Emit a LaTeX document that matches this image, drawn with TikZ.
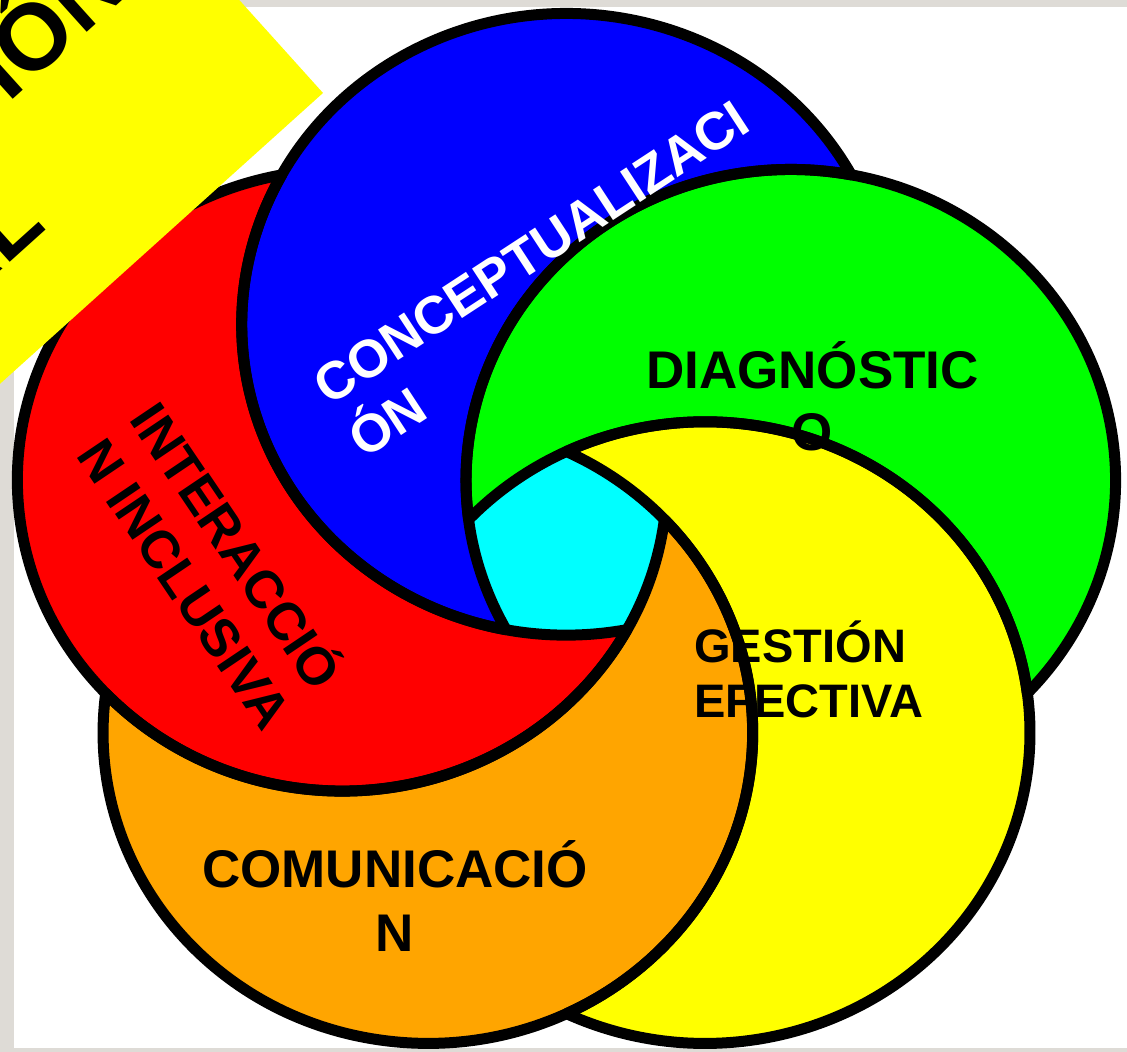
\documentclass[tikz,border=0pt]{standalone}
\usepackage{fontspec}
\setmainfont{Liberation Sans}
\usetikzlibrary{calc}

\definecolor{framegray}{RGB}{222,219,214}
\definecolor{petalblue}{RGB}{0,0,255}
\definecolor{petalred}{RGB}{255,0,0}
\definecolor{petalgreen}{RGB}{0,255,0}
\definecolor{petalyellow}{RGB}{255,255,0}
\definecolor{petalorange}{RGB}{255,165,0}
\definecolor{petalcyan}{RGB}{0,255,255}

% crescent of the circle at angle #1, cut by the next one (at #1-72)
\newcommand\crescent[1]{(#1:\RR) ++({#1-36-\gam}:\rr)
	arc[start angle={#1-36-\gam},end angle={#1+144+\gam},radius=\rr]
	arc[start angle={#1+144-\gam},end angle={#1-36+\gam},radius=\rr] -- cycle}

\begin{document}
\begin{tikzpicture}[x=5pt,y=5pt,
	petal/.style={line width=5.5pt,draw=black,line join=round},
	lbl/.style={inner sep=0pt,font=\bfseries\fontsize{26.5}{32}\selectfont},
	slbl/.style={inner sep=0pt,font=\bfseries\fontsize{23.5}{28}\selectfont},
	ttl/.style={inner sep=0pt,font=\bfseries\fontsize{47}{56}\selectfont,rotate=42,anchor=base east}
	]

	\useasboundingbox (0,0) rectangle (112.7,105.2);
	\clip (0,0) rectangle (112.7,105.2);

	% frame
	\fill[framegray] (0,0) rectangle (112.7,105.2);
	\fill[white] (1.4,0.4) rectangle (112.7,104.5);

	\pgfmathsetmacro{\rr}{31.08}
	\pgfmathsetmacro{\RR}{22.57}
	\pgfmathsetmacro{\gam}{atan(\RR*sin(36)/sqrt(\rr*\rr-(\RR*sin(36))^2))}

	\begin{scope}[shift={(56.65,50.2)},xscale=1.045]
		\fill[petalcyan] (0,0) circle (11);
		\foreach \t/\c in {90/petalblue,18/petalgreen,-54/petalyellow,-126/petalorange,162/petalred}{
			\fill[\c] \crescent{\t};
		}
		\foreach \t in {90,18,-54,-126,162}{
			\draw[petal] \crescent{\t};
		}
	\end{scope}

	% title box
	\fill[petalyellow] (32.3,95.9) -- ++(132:40) -- ++(222:70) -- ++(312:40) -- cycle;
	\node[ttl] (tit1) at (13.3,106.1) {FORMACIÓN};
	\node[ttl] (tit2) at (4.8,82.4) {INTEGRAL};

	% labels
	\node[lbl,white,rotate=33.2,anchor=base west] (con1) at (32.9,64.55) {CONCEPTUALIZACI};
	\node[lbl,white,rotate=33.2,anchor=base west] (con2) at ($(con1.base west)+(-56.8:6.4)$) {ÓN};

	\node[lbl,rotate=-56,anchor=base west] (int1) at (12.81,63.25) {INTERACCIÓ};
	\node[lbl,rotate=-56,anchor=base west] (int2) at ($(int1.base west)+(-146:6.4)$) {N INCLUSIVA};

	\node[lbl,anchor=base] (dia1) at (81.25,66.3) {DIAGNÓSTIC};
	\node[lbl,anchor=base] (dia2) at ($(dia1.base)+(0,-6.2)$) {O};

	\node[slbl,anchor=base west] (ges1) at (69.4,38.9) {GESTIÓN};
	\node[slbl,anchor=base west] (ges2) at ($(ges1.base west)+(0,-5.5)$) {EFECTIVA};

	\node[lbl,anchor=base] (com1) at (39.5,16.4) {COMUNICACIÓ};
	\node[lbl,anchor=base] (com2) at ($(com1.base)+(0,-6.4)$) {N};

\end{tikzpicture}
\end{document}
